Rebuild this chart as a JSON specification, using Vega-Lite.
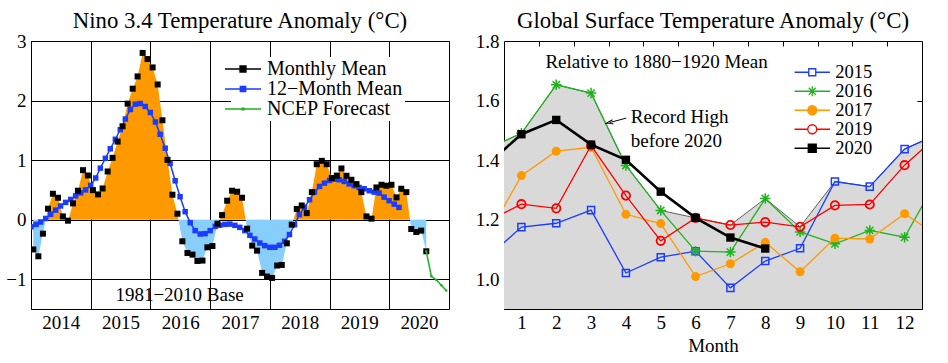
{
  "$schema": "https://vega.github.io/schema/vega-lite/v6.json",
  "padding": {"top": 9, "left": 5, "right": 5, "bottom": 5},
  "config": {
    "font": "Liberation Serif",
    "view": {"stroke": "black", "strokeWidth": 1},
    "axis": {"labelFontSize": 19, "labelColor": "black", "titleFontSize": 19, "titleColor": "black", "titleFontWeight": "normal", "labelFlush": false, "labelBound": false, "labelOverlap": false, "gridColor": "black", "gridOpacity": 1, "gridWidth": 1, "domain": false, "tickColor": "black"},
    "title": {"fontSize": 22.8, "fontWeight": "normal", "color": "black", "baseline": "alphabetic", "offset": -1},
    "legend": {"labelColor": "black", "labelLimit": 400}
  },
  "datasets": {
    "monthly": [
      {"date": "2014-01-15", "value": -0.50}, {"date": "2014-02-15", "value": -0.615}, {"date": "2014-03-15", "value": -0.235}, {"date": "2014-04-15", "value": 0.184},
      {"date": "2014-05-15", "value": 0.435}, {"date": "2014-06-15", "value": 0.368}, {"date": "2014-07-15", "value": 0.055}, {"date": "2014-08-15", "value": -0.017},
      {"date": "2014-09-15", "value": 0.273}, {"date": "2014-10-15", "value": 0.486}, {"date": "2014-11-15", "value": 0.831}, {"date": "2014-12-15", "value": 0.742},
      {"date": "2015-01-15", "value": 0.496}, {"date": "2015-02-15", "value": 0.424}, {"date": "2015-03-15", "value": 0.524}, {"date": "2015-04-15", "value": 0.809},
      {"date": "2015-05-15", "value": 1.038}, {"date": "2015-06-15", "value": 1.311}, {"date": "2015-07-15", "value": 1.568}, {"date": "2015-08-15", "value": 1.948},
      {"date": "2015-09-15", "value": 2.199}, {"date": "2015-10-15", "value": 2.405}, {"date": "2015-11-15", "value": 2.80}, {"date": "2015-12-15", "value": 2.697},
      {"date": "2016-01-15", "value": 2.556}, {"date": "2016-02-15", "value": 2.27}, {"date": "2016-03-15", "value": 1.669}, {"date": "2016-04-15", "value": 1.005},
      {"date": "2016-05-15", "value": 0.419}, {"date": "2016-06-15", "value": 0.10}, {"date": "2016-07-15", "value": -0.363}, {"date": "2016-08-15", "value": -0.559},
      {"date": "2016-09-15", "value": -0.587}, {"date": "2016-10-15", "value": -0.693}, {"date": "2016-11-15", "value": -0.687}, {"date": "2016-12-15", "value": -0.464},
      {"date": "2017-01-15", "value": -0.442}, {"date": "2017-02-15", "value": -0.067}, {"date": "2017-03-15", "value": 0.077}, {"date": "2017-04-15", "value": 0.318},
      {"date": "2017-05-15", "value": 0.486}, {"date": "2017-06-15", "value": 0.469}, {"date": "2017-07-15", "value": 0.368}, {"date": "2017-08-15", "value": -0.151},
      {"date": "2017-09-15", "value": -0.436}, {"date": "2017-10-15", "value": -0.52}, {"date": "2017-11-15", "value": -0.894}, {"date": "2017-12-15", "value": -0.955},
      {"date": "2018-01-15", "value": -0.978}, {"date": "2018-02-15", "value": -0.77}, {"date": "2018-03-15", "value": -0.76}, {"date": "2018-04-15", "value": -0.397},
      {"date": "2018-05-15", "value": -0.084}, {"date": "2018-06-15", "value": 0.18}, {"date": "2018-07-15", "value": 0.238}, {"date": "2018-08-15", "value": 0.11},
      {"date": "2018-09-15", "value": 0.462}, {"date": "2018-10-15", "value": 0.931}, {"date": "2018-11-15", "value": 0.988}, {"date": "2018-12-15", "value": 0.931},
      {"date": "2019-01-15", "value": 0.70}, {"date": "2019-02-15", "value": 0.74}, {"date": "2019-03-15", "value": 0.86}, {"date": "2019-04-15", "value": 0.737},
      {"date": "2019-05-15", "value": 0.67}, {"date": "2019-06-15", "value": 0.597}, {"date": "2019-07-15", "value": 0.462}, {"date": "2019-08-15", "value": 0.055},
      {"date": "2019-09-15", "value": 0.017}, {"date": "2019-10-15", "value": 0.541}, {"date": "2019-11-15", "value": 0.586}, {"date": "2019-12-15", "value": 0.57},
      {"date": "2020-01-15", "value": 0.586}, {"date": "2020-02-15", "value": 0.374}, {"date": "2020-03-15", "value": 0.519}, {"date": "2020-04-15", "value": 0.462},
      {"date": "2020-05-15", "value": -0.157}, {"date": "2020-06-15", "value": -0.208}, {"date": "2020-07-15", "value": -0.184}, {"date": "2020-08-15", "value": -0.531}
    ],
    "mean12": [
      {"date": "2014-01-01", "value": -0.12}, {"date": "2014-02-01", "value": -0.08}, {"date": "2014-03-01", "value": -0.04}, {"date": "2014-04-01", "value": 0.02},
      {"date": "2014-05-01", "value": 0.09}, {"date": "2014-06-01", "value": 0.16}, {"date": "2014-07-01", "value": 0.23}, {"date": "2014-08-01", "value": 0.29},
      {"date": "2014-09-01", "value": 0.34}, {"date": "2014-10-01", "value": 0.40}, {"date": "2014-11-01", "value": 0.45}, {"date": "2014-12-01", "value": 0.50},
      {"date": "2015-01-01", "value": 0.575}, {"date": "2015-02-01", "value": 0.70}, {"date": "2015-03-01", "value": 0.865}, {"date": "2015-04-01", "value": 1.03},
      {"date": "2015-05-01", "value": 1.19}, {"date": "2015-06-01", "value": 1.35}, {"date": "2015-07-01", "value": 1.51}, {"date": "2015-08-01", "value": 1.69},
      {"date": "2015-09-01", "value": 1.85}, {"date": "2015-10-01", "value": 1.94}, {"date": "2015-11-01", "value": 1.95}, {"date": "2015-12-01", "value": 1.90},
      {"date": "2016-01-01", "value": 1.80}, {"date": "2016-02-01", "value": 1.64}, {"date": "2016-03-01", "value": 1.434}, {"date": "2016-04-01", "value": 1.20},
      {"date": "2016-05-01", "value": 0.943}, {"date": "2016-06-01", "value": 0.653}, {"date": "2016-07-01", "value": 0.385}, {"date": "2016-08-01", "value": 0.134},
      {"date": "2016-09-01", "value": -0.05}, {"date": "2016-10-01", "value": -0.184}, {"date": "2016-11-01", "value": -0.241}, {"date": "2016-12-01", "value": -0.235},
      {"date": "2017-01-01", "value": -0.184}, {"date": "2017-02-01", "value": -0.112}, {"date": "2017-03-01", "value": -0.095}, {"date": "2017-04-01", "value": -0.079},
      {"date": "2017-05-01", "value": -0.074}, {"date": "2017-06-01", "value": -0.095}, {"date": "2017-07-01", "value": -0.129}, {"date": "2017-08-01", "value": -0.184},
      {"date": "2017-09-01", "value": -0.263}, {"date": "2017-10-01", "value": -0.325}, {"date": "2017-11-01", "value": -0.392}, {"date": "2017-12-01", "value": -0.436},
      {"date": "2018-01-01", "value": -0.464}, {"date": "2018-02-01", "value": -0.464}, {"date": "2018-03-01", "value": -0.43}, {"date": "2018-04-01", "value": -0.363},
      {"date": "2018-05-01", "value": -0.251}, {"date": "2018-06-01", "value": -0.084}, {"date": "2018-07-01", "value": 0.084}, {"date": "2018-08-01", "value": 0.206},
      {"date": "2018-09-01", "value": 0.335}, {"date": "2018-10-01", "value": 0.462}, {"date": "2018-11-01", "value": 0.558}, {"date": "2018-12-01", "value": 0.613},
      {"date": "2019-01-01", "value": 0.658}, {"date": "2019-02-01", "value": 0.68}, {"date": "2019-03-01", "value": 0.67}, {"date": "2019-04-01", "value": 0.642},
      {"date": "2019-05-01", "value": 0.60}, {"date": "2019-06-01", "value": 0.57}, {"date": "2019-07-01", "value": 0.541}, {"date": "2019-08-01", "value": 0.519},
      {"date": "2019-09-01", "value": 0.486}, {"date": "2019-10-01", "value": 0.462}, {"date": "2019-11-01", "value": 0.446}, {"date": "2019-12-01", "value": 0.379},
      {"date": "2020-01-01", "value": 0.318}, {"date": "2020-02-01", "value": 0.261}, {"date": "2020-03-01", "value": 0.206}
    ],
    "forecast": [
      {"date": "2020-08-15", "value": -0.531}, {"date": "2020-09-15", "value": -0.95}, {"date": "2020-10-15", "value": -1.01},
      {"date": "2020-11-15", "value": -1.10}, {"date": "2020-12-15", "value": -1.19}
    ],
    "gst": [
      {"year": "2015", "month": 0, "value": 1.07}, {"year": "2015", "month": 1, "value": 1.175}, {"year": "2015", "month": 2, "value": 1.188}, {"year": "2015", "month": 3, "value": 1.232},
      {"year": "2015", "month": 4, "value": 1.021}, {"year": "2015", "month": 5, "value": 1.074}, {"year": "2015", "month": 6, "value": 1.094}, {"year": "2015", "month": 7, "value": 0.971},
      {"year": "2015", "month": 8, "value": 1.061}, {"year": "2015", "month": 9, "value": 1.104}, {"year": "2015", "month": 10, "value": 1.328}, {"year": "2015", "month": 11, "value": 1.311},
      {"year": "2015", "month": 12, "value": 1.437}, {"year": "2015", "month": 13, "value": 1.49},
      {"year": "2016", "month": 0, "value": 1.437}, {"year": "2016", "month": 1, "value": 1.49}, {"year": "2016", "month": 2, "value": 1.653}, {"year": "2016", "month": 3, "value": 1.625},
      {"year": "2016", "month": 4, "value": 1.382}, {"year": "2016", "month": 5, "value": 1.231}, {"year": "2016", "month": 6, "value": 1.094}, {"year": "2016", "month": 7, "value": 1.091},
      {"year": "2016", "month": 8, "value": 1.271}, {"year": "2016", "month": 9, "value": 1.159}, {"year": "2016", "month": 10, "value": 1.119}, {"year": "2016", "month": 11, "value": 1.164},
      {"year": "2016", "month": 12, "value": 1.141}, {"year": "2016", "month": 13, "value": 1.348},
      {"year": "2017", "month": 0, "value": 1.141}, {"year": "2017", "month": 1, "value": 1.348}, {"year": "2017", "month": 2, "value": 1.430}, {"year": "2017", "month": 3, "value": 1.443},
      {"year": "2017", "month": 4, "value": 1.218}, {"year": "2017", "month": 5, "value": 1.187}, {"year": "2017", "month": 6, "value": 1.009}, {"year": "2017", "month": 7, "value": 1.052},
      {"year": "2017", "month": 8, "value": 1.124}, {"year": "2017", "month": 9, "value": 1.025}, {"year": "2017", "month": 10, "value": 1.138}, {"year": "2017", "month": 11, "value": 1.135},
      {"year": "2017", "month": 12, "value": 1.220}, {"year": "2017", "month": 13, "value": 1.142},
      {"year": "2019", "month": 0, "value": 1.193}, {"year": "2019", "month": 1, "value": 1.252}, {"year": "2019", "month": 2, "value": 1.238}, {"year": "2019", "month": 3, "value": 1.449},
      {"year": "2019", "month": 4, "value": 1.281}, {"year": "2019", "month": 5, "value": 1.129}, {"year": "2019", "month": 6, "value": 1.206}, {"year": "2019", "month": 7, "value": 1.182},
      {"year": "2019", "month": 8, "value": 1.192}, {"year": "2019", "month": 9, "value": 1.176}, {"year": "2019", "month": 10, "value": 1.248}, {"year": "2019", "month": 11, "value": 1.251},
      {"year": "2019", "month": 12, "value": 1.383}, {"year": "2019", "month": 13, "value": 1.487},
      {"year": "2020", "month": 0, "value": 1.383}, {"year": "2020", "month": 1, "value": 1.487}, {"year": "2020", "month": 2, "value": 1.535}, {"year": "2020", "month": 3, "value": 1.452},
      {"year": "2020", "month": 4, "value": 1.401}, {"year": "2020", "month": 5, "value": 1.294}, {"year": "2020", "month": 6, "value": 1.206}, {"year": "2020", "month": 7, "value": 1.140},
      {"year": "2020", "month": 8, "value": 1.103},
      {"year": "record", "month": 0, "value": 1.437}, {"year": "record", "month": 1, "value": 1.49}, {"year": "record", "month": 2, "value": 1.653}, {"year": "record", "month": 3, "value": 1.625},
      {"year": "record", "month": 4, "value": 1.382}, {"year": "record", "month": 5, "value": 1.231}, {"year": "record", "month": 6, "value": 1.206}, {"year": "record", "month": 7, "value": 1.182},
      {"year": "record", "month": 8, "value": 1.271}, {"year": "record", "month": 9, "value": 1.176}, {"year": "record", "month": 10, "value": 1.328}, {"year": "record", "month": 11, "value": 1.311},
      {"year": "record", "month": 12, "value": 1.437}, {"year": "record", "month": 13, "value": 1.49}
    ]
  },
  "spacing": 24,
  "resolve": {
    "scale": {"fill": "independent", "stroke": "independent", "shape": "independent", "strokeWidth": "independent", "color": "independent"},
    "legend": {"fill": "independent", "stroke": "independent", "shape": "independent", "strokeWidth": "independent", "color": "independent"}
  },
  "hconcat": [
    {
      "width": 418,
      "height": 268,
      "title": "Nino 3.4 Temperature Anomaly (°C)",
      "layer": [
        {
          "data": {"name": "monthly"},
          "mark": {"type": "area", "clip": true, "color": {"gradient": "linear", "x1": 0, "y1": 0, "x2": 0, "y2": 1, "stops": [{"offset": 0, "color": "#ff9900"}, {"offset": 0.7411, "color": "#ff9900"}, {"offset": 0.7411, "color": "#87cefa"}, {"offset": 1, "color": "#87cefa"}]}},
          "encoding": {
            "x": {"field": "date", "type": "temporal", "title": null,
              "scale": {"type": "utc", "domain": [{"year": 2014, "month": 1, "date": 1, "utc": true}, {"year": 2021, "month": 1, "date": 1, "utc": true}]},
              "axis": {"values": [{"year": 2014, "month": 1, "date": 1, "utc": true}, {"year": 2015, "month": 1, "date": 1, "utc": true}, {"year": 2016, "month": 1, "date": 1, "utc": true}, {"year": 2017, "month": 1, "date": 1, "utc": true}, {"year": 2018, "month": 1, "date": 1, "utc": true}, {"year": 2019, "month": 1, "date": 1, "utc": true}, {"year": 2020, "month": 1, "date": 1, "utc": true}],
                "format": "%Y", "formatType": "utc", "labelOffset": 29.8, "grid": true, "gridColor": "black", "gridOpacity": 1, "gridWidth": 1, "ticks": false, "labelPadding": 4, "zindex": 0}},
            "y": {"field": "value", "type": "quantitative", "title": null,
              "scale": {"domain": [-1.5, 3], "nice": false, "zero": false},
              "axis": {"values": [-1, 0, 1, 2, 3], "format": "d", "grid": true, "gridColor": "black", "gridOpacity": 1, "gridWidth": 1, "ticks": false, "labelPadding": 5, "zindex": 0}},
            "y2": {"datum": 0}
          }
        },
        {
          "data": {"name": "mean12"},
          "mark": {"type": "line", "clip": true, "color": "#1a3cff", "strokeWidth": 1.5},
          "encoding": {
            "x": {"field": "date", "type": "temporal", "title": null},
            "y": {"field": "value", "type": "quantitative", "title": null}
          }
        },
        {
          "data": {"name": "mean12"},
          "mark": {"type": "point", "clip": true, "shape": "square", "filled": true, "color": "#1a3cff", "size": 30, "opacity": 1},
          "encoding": {
            "x": {"field": "date", "type": "temporal", "title": null},
            "y": {"field": "value", "type": "quantitative", "title": null}
          }
        },
        {
          "data": {"name": "monthly"},
          "mark": {"type": "point", "clip": true, "shape": "square", "filled": true, "color": "black", "size": 36, "opacity": 1},
          "encoding": {
            "x": {"field": "date", "type": "temporal", "title": null},
            "y": {"field": "value", "type": "quantitative", "title": null}
          }
        },
        {
          "data": {"name": "forecast"},
          "mark": {"type": "line", "clip": true, "color": "#1db31d", "strokeWidth": 1.5},
          "encoding": {
            "x": {"field": "date", "type": "temporal", "title": null},
            "y": {"field": "value", "type": "quantitative", "title": null}
          }
        },
        {
          "data": {"name": "forecast"},
          "mark": {"type": "point", "clip": true, "shape": "square", "filled": true, "color": "#1db31d", "size": 5, "opacity": 1},
          "encoding": {
            "x": {"field": "date", "type": "temporal", "title": null},
            "y": {"field": "value", "type": "quantitative", "title": null}
          }
        },
        {
          "data": {"values": [{}]},
          "mark": {"type": "text", "fontSize": 19, "align": "center", "baseline": "middle", "color": "black"},
          "encoding": {
            "x": {"datum": {"year": 2016, "month": 6, "date": 28, "utc": true}, "type": "temporal", "title": null},
            "y": {"datum": -1.27, "type": "quantitative", "title": null},
            "text": {"value": "1981−2010 Base"}
          }
        },
        {
          "data": {"values": []},
          "mark": {"type": "point", "filled": true, "opacity": 1},
          "encoding": {
            "fill": {"field": "series", "type": "nominal", "scale": {"domain": ["Monthly Mean", "12−Month Mean", "NCEP Forecast"], "range": ["black", "#1a3cff", "#1db31d"]},
              "legend": {"title": null, "orient": "none", "legendX": 200, "legendY": 16, "labelFontSize": 20, "labelOffset": 14, "symbolSize": 256, "symbolStrokeWidth": 1.3, "rowPadding": 0, "fillColor": "white", "padding": 2}},
            "stroke": {"field": "series", "type": "nominal", "scale": {"domain": ["Monthly Mean", "12−Month Mean", "NCEP Forecast"], "range": ["black", "#1a3cff", "#1db31d"]},
              "legend": {"title": null, "orient": "none", "legendX": 200, "legendY": 16, "labelFontSize": 20, "labelOffset": 14, "symbolSize": 256, "symbolStrokeWidth": 1.3, "rowPadding": 0, "fillColor": "white", "padding": 2}},
            "shape": {"field": "series", "type": "nominal", "scale": {"domain": ["Monthly Mean", "12−Month Mean", "NCEP Forecast"], "range": ["M-2.25,0H2.25M-0.375,-0.375H0.375V0.375H-0.375Z", "M-2.25,0H2.25M-0.34,-0.34H0.34V0.34H-0.34Z", "M-2.25,0H2.25M-0.12,-0.12H0.12V0.12H-0.12Z"]},
              "legend": {"title": null, "orient": "none", "legendX": 200, "legendY": 16, "labelFontSize": 20, "labelOffset": 14, "symbolSize": 256, "symbolStrokeWidth": 1.3, "rowPadding": 0, "fillColor": "white", "padding": 2}}
          }
        }
      ]
    },
    {
      "width": 418,
      "height": 268,
      "title": "Global Surface Temperature Anomaly (°C)",
      "data": {"name": "gst"},
      "resolve": {"axis": {"x": "independent", "y": "independent"}},
      "layer": [
        {
          "transform": [{"filter": "datum.year == 'record'"}],
          "mark": {"type": "area", "clip": true, "color": "#d9d9d9"},
          "encoding": {
            "x": {"field": "month", "type": "quantitative",
              "scale": {"domain": [0.5, 12.5], "nice": false, "zero": false},
              "axis": {"values": [0.5, 1.5, 2.5, 3.5, 4.5, 5.5, 6.5, 7.5, 8.5, 9.5, 10.5, 11.5], "labelExpr": "format(datum.value + 0.5, 'd')", "labelOffset": 17.4, "grid": false, "ticks": true, "tickSize": -5, "labelPadding": 9, "title": "Month", "titlePadding": 4}},
            "y": {"field": "value", "type": "quantitative",
              "scale": {"domain": [0.9, 1.8], "nice": false, "zero": false},
              "axis": {"values": [1.0, 1.2, 1.4, 1.6, 1.8], "format": ".1f", "grid": false, "ticks": false, "labelPadding": 5, "title": null}},
            "y2": {"datum": 0.9}
          }
        },
        {
          "transform": [{"filter": "datum.year == 'record'"}],
          "mark": {"type": "line", "clip": true, "color": "black", "strokeWidth": 0.6},
          "encoding": {
            "x": {"field": "month", "type": "quantitative",
              "axis": {"orient": "top", "values": [1.5, 2.5, 3.5, 4.5, 5.5, 6.5, 7.5, 8.5, 9.5, 10.5, 11.5], "labels": false, "grid": false, "ticks": true, "tickSize": -5, "title": null}},
            "y": {"field": "value", "type": "quantitative",
              "axis": {"orient": "right", "values": [1.0, 1.2, 1.4, 1.6], "labels": false, "grid": false, "ticks": true, "tickSize": -5, "title": null}}
          }
        },
        {
          "transform": [{"filter": "datum.year == '2015'"}],
          "mark": {"type": "line", "clip": true, "color": "#1a3cff", "strokeWidth": 1.3},
          "encoding": {"x": {"field": "month", "type": "quantitative", "axis": null}, "y": {"field": "value", "type": "quantitative", "axis": null}}
        },
        {
          "transform": [{"filter": "datum.year == '2015' && datum.month >= 1 && datum.month <= 12"}],
          "mark": {"type": "point", "clip": true, "shape": "square", "filled": false, "stroke": "#1a3cff", "strokeWidth": 1.5, "size": 50, "opacity": 1},
          "encoding": {"x": {"field": "month", "type": "quantitative", "axis": null}, "y": {"field": "value", "type": "quantitative", "axis": null}}
        },
        {
          "transform": [{"filter": "datum.year == '2016'"}],
          "mark": {"type": "line", "clip": true, "color": "#22b21f", "strokeWidth": 1.3},
          "encoding": {"x": {"field": "month", "type": "quantitative", "axis": null}, "y": {"field": "value", "type": "quantitative", "axis": null}}
        },
        {
          "transform": [{"filter": "datum.year == '2016' && datum.month >= 1 && datum.month <= 12"}],
          "mark": {"type": "point", "clip": true, "shape": "M0,-1V1M-1,0H1M-0.7,-0.7L0.7,0.7M-0.7,0.7L0.7,-0.7", "filled": false, "stroke": "#22b21f", "strokeWidth": 1.5, "size": 110, "opacity": 1},
          "encoding": {"x": {"field": "month", "type": "quantitative", "axis": null}, "y": {"field": "value", "type": "quantitative", "axis": null}}
        },
        {
          "transform": [{"filter": "datum.year == '2017'"}],
          "mark": {"type": "line", "clip": true, "color": "#ff9900", "strokeWidth": 1.3},
          "encoding": {"x": {"field": "month", "type": "quantitative", "axis": null}, "y": {"field": "value", "type": "quantitative", "axis": null}}
        },
        {
          "transform": [{"filter": "datum.year == '2017' && datum.month >= 1 && datum.month <= 12"}],
          "mark": {"type": "point", "clip": true, "shape": "circle", "filled": true, "color": "#ff9900", "size": 80, "opacity": 1},
          "encoding": {"x": {"field": "month", "type": "quantitative", "axis": null}, "y": {"field": "value", "type": "quantitative", "axis": null}}
        },
        {
          "transform": [{"filter": "datum.year == '2019'"}],
          "mark": {"type": "line", "clip": true, "color": "#ff0000", "strokeWidth": 1.3},
          "encoding": {"x": {"field": "month", "type": "quantitative", "axis": null}, "y": {"field": "value", "type": "quantitative", "axis": null}}
        },
        {
          "transform": [{"filter": "datum.year == '2019' && datum.month >= 1 && datum.month <= 12"}],
          "mark": {"type": "point", "clip": true, "shape": "circle", "filled": false, "stroke": "#ff0000", "strokeWidth": 1.8, "size": 70, "opacity": 1},
          "encoding": {"x": {"field": "month", "type": "quantitative", "axis": null}, "y": {"field": "value", "type": "quantitative", "axis": null}}
        },
        {
          "transform": [{"filter": "datum.year == '2020'"}],
          "mark": {"type": "line", "clip": true, "color": "black", "strokeWidth": 2.6},
          "encoding": {"x": {"field": "month", "type": "quantitative", "axis": null}, "y": {"field": "value", "type": "quantitative", "axis": null}}
        },
        {
          "transform": [{"filter": "datum.year == '2020' && datum.month >= 1 && datum.month <= 12"}],
          "mark": {"type": "point", "clip": true, "shape": "square", "filled": true, "color": "black", "size": 70, "opacity": 1},
          "encoding": {"x": {"field": "month", "type": "quantitative", "axis": null}, "y": {"field": "value", "type": "quantitative", "axis": null}}
        },
        {
          "data": {"values": [{}]},
          "mark": {"type": "text", "fontSize": 19, "align": "center", "baseline": "middle", "color": "black"},
          "encoding": {
            "x": {"datum": 4.88, "type": "quantitative", "axis": null},
            "y": {"datum": 1.728, "type": "quantitative", "axis": null},
            "text": {"value": "Relative to 1880−1920 Mean"}
          }
        },
        {
          "data": {"values": [{}]},
          "mark": {"type": "text", "fontSize": 19, "align": "left", "baseline": "middle", "color": "black", "lineHeight": 24.6},
          "encoding": {
            "x": {"datum": 4.14, "type": "quantitative", "axis": null},
            "y": {"datum": 1.546, "type": "quantitative", "axis": null},
            "text": {"value": ["Record High", "before 2020"]}
          }
        },
        {
          "data": {"values": [{}]},
          "mark": {"type": "rule", "color": "black", "strokeWidth": 1},
          "encoding": {
            "x": {"datum": 3.53, "type": "quantitative", "axis": null},
            "y": {"datum": 1.526, "type": "quantitative", "axis": null},
            "x2": {"datum": 4.01},
            "y2": {"datum": 1.541}
          }
        },
        {
          "data": {"values": [{}]},
          "mark": {"type": "point", "shape": "M1,-0.6L-1,0L1,0.6", "angle": 346, "size": 49, "filled": false, "stroke": "black", "strokeWidth": 1, "opacity": 1},
          "encoding": {
            "x": {"datum": 3.53, "type": "quantitative", "axis": null},
            "y": {"datum": 1.526, "type": "quantitative", "axis": null}
          }
        },
        {
          "data": {"values": []},
          "mark": {"type": "point", "filled": true, "opacity": 1},
          "encoding": {
            "fill": {"field": "yr", "type": "nominal", "scale": {"domain": ["2015", "2016", "2017", "2019", "2020"], "range": ["transparent", "transparent", "#ff9900", "transparent", "black"]},
              "legend": {"title": null, "orient": "none", "legendX": 297, "legendY": 20, "labelFontSize": 18.5, "labelOffset": 13.7, "symbolSize": 196, "symbolStrokeWidth": 1.3, "rowPadding": -3, "padding": 2}},
            "stroke": {"field": "yr", "type": "nominal", "scale": {"domain": ["2015", "2016", "2017", "2019", "2020"], "range": ["#1a3cff", "#22b21f", "#ff9900", "#ff0000", "black"]},
              "legend": {"title": null, "orient": "none", "legendX": 297, "legendY": 20, "labelFontSize": 18.5, "labelOffset": 13.7, "symbolSize": 196, "symbolStrokeWidth": 1.3, "rowPadding": -3, "padding": 2}},
            "strokeWidth": {"field": "yr", "type": "nominal", "scale": {"domain": ["2015", "2016", "2017", "2019", "2020"], "range": [1.3, 1.3, 1.3, 1.3, 2.6]},
              "legend": {"title": null, "orient": "none", "legendX": 297, "legendY": 20, "labelFontSize": 18.5, "labelOffset": 13.7, "symbolSize": 196, "symbolStrokeWidth": 1.3, "rowPadding": -3, "padding": 2}},
            "shape": {"field": "yr", "type": "nominal", "scale": {"domain": ["2015", "2016", "2017", "2019", "2020"], "range": ["M-2.53,0H-0.5M0.5,0H2.53M-0.5,-0.5H0.5V0.5H-0.5Z", "M-2.53,0H2.53M0,-0.71V0.71M-0.5,-0.5L0.5,0.5M-0.5,0.5L0.5,-0.5", "M-2.53,0H2.53M0.64,0A0.64,0.64 0 1,1 -0.64,0A0.64,0.64 0 1,1 0.64,0Z", "M-2.53,0H-0.64M0.64,0H2.53M0.64,0A0.64,0.64 0 1,1 -0.64,0A0.64,0.64 0 1,1 0.64,0Z", "M-2.53,0H2.53M-0.57,-0.57H0.57V0.57H-0.57Z"]},
              "legend": {"title": null, "orient": "none", "legendX": 297, "legendY": 20, "labelFontSize": 18.5, "labelOffset": 13.7, "symbolSize": 196, "symbolStrokeWidth": 1.3, "rowPadding": -3, "padding": 2}}
          }
        }
      ]
    }
  ]
}
